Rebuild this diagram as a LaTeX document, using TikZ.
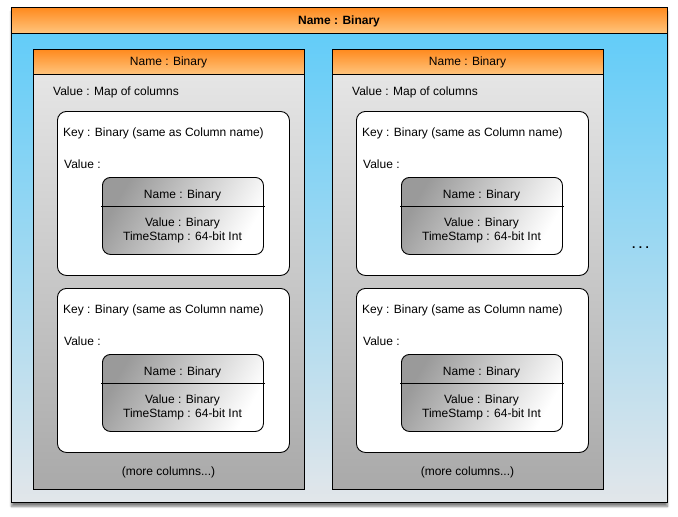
\documentclass[tikz,border=0pt]{standalone}
\usepackage{fontspec}
\setmainfont{Liberation Sans}
\usetikzlibrary{shadows.blur}
\definecolor{orTop}{HTML}{FF8A1E}
\definecolor{orBot}{HTML}{FFC57E}
\definecolor{blTop}{HTML}{5CCBF9}
\definecolor{blBot}{HTML}{E2E6EA}
\definecolor{gyTop}{HTML}{E9E9E9}
\definecolor{gyBot}{HTML}{A9A9A9}
\definecolor{cellDark}{HTML}{9A9A9A}
\tikzset{
  txt/.style={font=\fontsize{12}{14}\selectfont, inner sep=0pt, yshift=-1.2pt},
  boxbase/.style={draw=black, line width=0.9pt, anchor=north west, inner sep=0pt},
  outerbg/.style={boxbase, top color=blTop, bottom color=blBot, blur shadow={shadow xshift=0pt, shadow yshift=-4pt, shadow blur steps=6, shadow opacity=50}},
  header/.style={boxbase, top color=orTop, bottom color=orBot},
  colbody/.style={boxbase, top color=gyTop, bottom color=gyBot},
  cellbox/.style={boxbase, fill=white, rounded corners=9pt},
  valbox/.style={boxbase, rounded corners=8pt, left color=cellDark, right color=white, shading angle=60}
}
\begin{document}
\begin{tikzpicture}[x=1pt,y=-1pt]
\useasboundingbox (0,0) rectangle (678,517);
\node[outerbg, minimum width=656pt, minimum height=495pt] (outer) at (11,7) {};
\node[header, minimum width=656pt, minimum height=26pt] (outerhead) at (11,7) {};
\node[txt, font=\fontsize{12}{14}\selectfont\bfseries] (outertitle) at (339,20) {Name : Binary};
\node[txt, font=\fontsize{12}{14}\selectfont\bfseries] (dots) at (640.5,246) {.\hspace{3.5pt}.\hspace{3.5pt}.};
\foreach \c/\dx in {L/0, R/299}{
  \begin{scope}[xshift=\dx pt]
    \node[colbody, minimum width=271pt, minimum height=440pt] (col\c) at (33,49) {};
    \node[header, minimum width=271pt, minimum height=25pt] (colhead\c) at (33,49) {};
    \node[txt] (coltitle\c) at (168.5,61.5) {Name : Binary};
    \node[txt, anchor=west] (colval\c) at (53,91) {Value : Map of columns};
    \node[txt] (more\c) at (168.5,471) {(more columns...)};
    \foreach \r/\dy in {A/0, B/177}{
      \begin{scope}[yshift=-\dy pt]
        \node[cellbox, minimum width=232pt, minimum height=164pt] (cell\c\r) at (57,111) {};
        \node[txt, anchor=west] (key\c\r) at (63,132) {Key : Binary (same as Column name)};
        \node[txt, anchor=west] (vlab\c\r) at (64,163) {Value :};
        \node[valbox, minimum width=161pt, minimum height=77pt] (val\c\r) at (102,177) {};
        \draw[line width=0.9pt] ([xshift=-1pt]val\c\r.west |- 0,206) coordinate (sepA\c\r) -- ([xshift=1pt]val\c\r.east |- 0,206) coordinate (sepB\c\r);
        \node[txt] (vname\c\r) at (182.5,194) {Name : Binary};
        \node[txt, align=center, font=\fontsize{12}{14}\selectfont] (vdata\c\r) at (182.5,229) {Value : Binary\\TimeStamp : 64-bit Int};
      \end{scope}
    }
  \end{scope}
}
\end{tikzpicture}
\end{document}
